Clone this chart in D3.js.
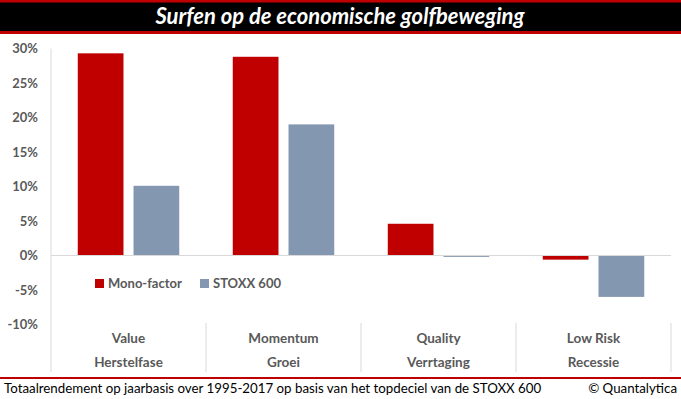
<!DOCTYPE html>
<html><head><meta charset="utf-8">
<script src="https://cdn.jsdelivr.net/npm/d3@7"></script>
<style>body{margin:0;background:#fff;} svg{display:block;font-family:Lato, "Open Sans", sans-serif;}</style>
</head><body><svg id="c" width="681" height="399"></svg>
<script>
const title = "Surfen op de economische golfbeweging";
const categories = ["Value", "Momentum", "Quality", "Low Risk"];
const phases = ["Herstelfase", "Groei", "Verrtaging", "Recessie"];
const seriesNames = ["Mono-factor", "STOXX 600"];
const monoFactor = [29.3, 28.8, 4.6, -0.6];
const stoxx600 = [10.1, 19.0, -0.2, -6.0];
const yTicks = [30, 25, 20, 15, 10, 5, 0, -5, -10];
const footer = "Totaalrendement op jaarbasis over 1995-2017 op basis van het topdeciel van de STOXX 600";
const credit = "© Quantalytica";
const colors = ["#c00000", "#8497b0"];

const svg = d3.select("#c");
// Title banner
svg.append("rect").attr("x",0).attr("y",0).attr("width",681).attr("height",34).attr("fill","#c00000");
svg.append("rect").attr("x",0).attr("y",2.5).attr("width",681).attr("height",28.5).attr("fill","#000");
svg.append("text").attr("x",340).attr("y",24).attr("text-anchor","middle")
  .attr("fill","#fff").attr("font-size",22).attr("font-weight","bold").attr("font-style","italic")
  .text(title);

const x = d3.scaleBand().domain(categories).range([51, 671]);
const x1 = d3.scaleBand().domain(seriesNames).range([0, x.bandwidth()]).paddingInner(0.18).paddingOuter(0.48);
const y = d3.scaleLinear().domain([-10, 30]).range([324.5, 48.5]);

// y axis line
svg.append("line").attr("x1",51).attr("x2",51).attr("y1",48.5).attr("y2",372).attr("stroke","#d9d9d9");
// category dividers
categories.forEach((c,i)=>{
  const xx = x(c)+x.bandwidth();
  svg.append("line").attr("x1",xx).attr("x2",xx).attr("y1",323).attr("y2",372).attr("stroke","#d9d9d9");
});

// bars
const data = categories.map((c,i)=>({c, vals:[monoFactor[i], stoxx600[i]]}));
const g = svg.append("g");
data.forEach(d=>{
  d.vals.forEach((v,j)=>{
    g.append("rect")
      .attr("x", x(d.c)+x1(seriesNames[j]))
      .attr("width", x1.bandwidth())
      .attr("y", y(Math.max(0,v)))
      .attr("height", Math.abs(y(v)-y(0)))
      .attr("fill", colors[j]);
  });
});
// zero line
svg.append("line").attr("x1",51).attr("x2",671).attr("y1",y(0)).attr("y2",y(0)).attr("stroke","#d9d9d9").attr("stroke-width",1.2);

// y tick labels
const yAxis = d3.axisLeft(y).tickValues(yTicks).tickFormat(d=>d+"%").tickSize(0).tickPadding(13);
const ya = svg.append("g").attr("transform","translate(51,0)").call(yAxis);
ya.select(".domain").remove();
ya.selectAll("text").attr("font-size",13).attr("font-weight","bold").attr("fill","#595959").attr("font-family","Lato, sans-serif");

// category labels
categories.forEach((c,i)=>{
  const cx = x(c)+x.bandwidth()/2;
  svg.append("text").attr("x",cx).attr("y",343).attr("text-anchor","middle").attr("font-size",13.5).attr("font-weight","bold").attr("fill","#595959").text(c);
  svg.append("text").attr("x",cx).attr("y",367).attr("text-anchor","middle").attr("font-size",13.5).attr("font-weight","bold").attr("fill","#595959").text(phases[i]);
});

// legend
const legX = [95, 200];
seriesNames.forEach((s,j)=>{
  svg.append("rect").attr("x",legX[j]).attr("y",279).attr("width",9).attr("height",9).attr("fill",colors[j]);
  svg.append("text").attr("x",legX[j]+13).attr("y",288).attr("font-size",13).attr("font-weight","bold").attr("fill","#595959").text(s);
});

// footer
svg.append("rect").attr("x",0).attr("y",377).attr("width",681).attr("height",2).attr("fill","#c00000");
svg.append("text").attr("x",4).attr("y",393).attr("font-size",13.3).attr("fill","#000").text(footer);
svg.append("text").attr("x",677).attr("y",393).attr("text-anchor","end").attr("font-size",13.3).attr("fill","#000").text(credit);
</script></body></html>
